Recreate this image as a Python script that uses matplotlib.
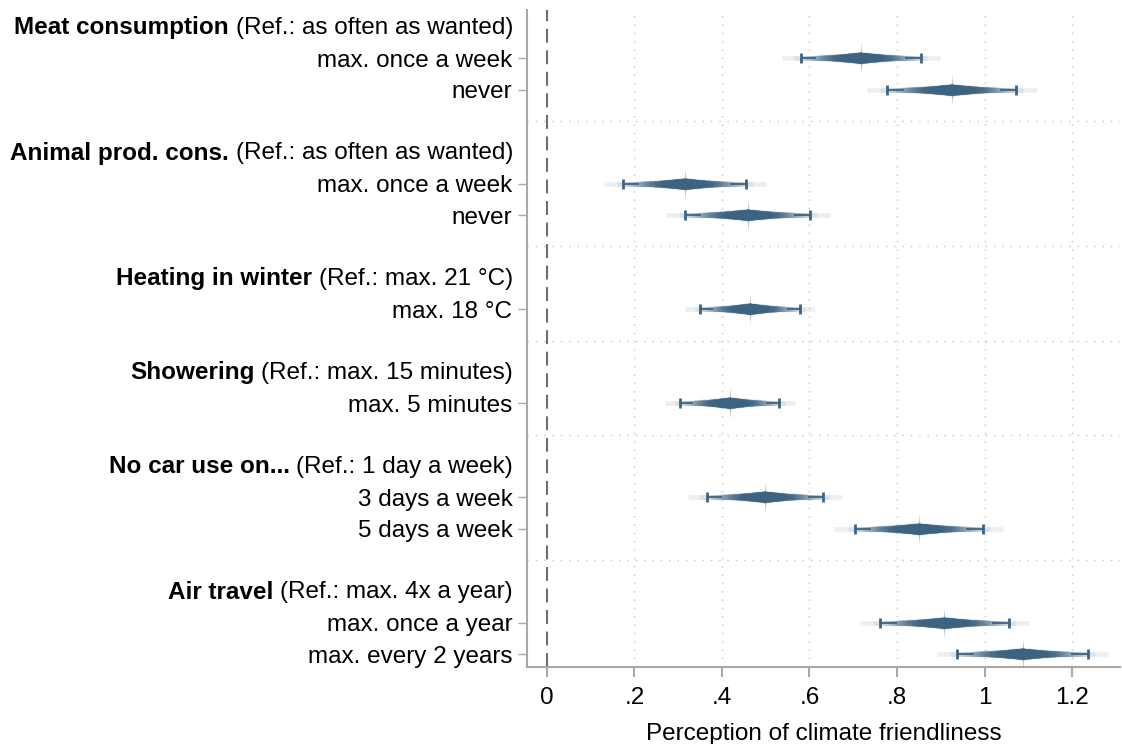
import matplotlib
matplotlib.use('Agg')
import matplotlib.pyplot as plt
import numpy as np
from matplotlib.collections import LineCollection
from matplotlib.path import Path
from matplotlib.transforms import blended_transform_factory
from statistics import NormalDist

plt.rcParams['font.family'] = ['Liberation Sans', 'DejaVu Sans']
plt.rcParams['lines.scale_dashes'] = False

# Data
groups = ['Meat consumption', 'Animal prod. cons.', 'Heating in winter',
          'Showering', 'No car use on...', 'Air travel']
refs = ['(Ref.: as often as wanted)', '(Ref.: as often as wanted)',
        '(Ref.: max. 21 °C)', '(Ref.: max. 15 minutes)',
        '(Ref.: 1 day a week)', '(Ref.: max. 4x a year)']
items = [['max. once a week', 'never'],
         ['max. once a week', 'never'],
         ['max. 18 °C'],
         ['max. 5 minutes'],
         ['3 days a week', '5 days a week'],
         ['max. once a year', 'max. every 2 years']]
coefs = [[0.717, 0.925], [0.315, 0.459], [0.464], [0.418],
         [0.498, 0.850], [0.908, 1.087]]
ses = [[0.070, 0.0755], [0.0717, 0.073], [0.058], [0.0577],
       [0.068, 0.075], [0.075, 0.076]]

xticks = [0, .2, .4, .6, .8, 1, 1.2]
xticklabels = ['0', '.2', '.4', '.6', '.8', '1', '1.2']

base = '#3d6382'
PT = 0.72      # points per pixel at dpi 100
FS = 17.5

fig = plt.figure(figsize=(11.22, 7.44), dpi=100)
ax = fig.add_axes([527/1122, 1-667/744, (1120-527)/1122, (667-10)/744])

# Row layout: header, items, separator between groups
rows_hdr, rows_item, rows_sep = [], [], []
r = 0
for g, its in enumerate(items):
    rows_hdr.append(r); r += 1
    for it in its:
        rows_item.append(r); r += 1
    if g < len(items) - 1:
        rows_sep.append(r); r += 1

flat_items = [it for its in items for it in its]
flat_coefs = [c for cs in coefs for c in cs]
flat_ses = [s for ss in ses for s in ss]

ax.set_xlim(-0.0457, 1.3097)
ax.set_ylim(20.41, -0.54)

# grid and separators
grid_ls = (0, (1, 5))
ax.vlines(xticks[1:], 20.41, -0.54, colors='#c4c4c4', lw=1, linestyles=grid_ls, zorder=1)
for ys in rows_sep:
    ax.axhline(ys, color='#c4c4c4', lw=1, ls=grid_ls, zorder=1)
ax.axvline(0, color='#6e6e6e', lw=1.5, ls=(0, (10, 5.5)), zorder=2)

# smoothed confidence intervals
nd = NormalDist()
lev = np.linspace(1, 99, 50)
zs = np.array([nd.inv_cdf(0.5 + l / 200) for l in lev])
lws = np.linspace(12, 4.5, 50) * PT
alphas = np.linspace(0.26, 0.1, 50)
rgb = matplotlib.colors.to_rgb(base)
cols = [rgb + (a,) for a in alphas]

spike = Path([(0, 1), (0.08, 0), (0, -1), (-0.08, 0), (0, 1)],
             [Path.MOVETO, Path.LINETO, Path.LINETO, Path.LINETO, Path.CLOSEPOLY])

for c, s, y in zip(flat_coefs, flat_ses, rows_item):
    segs = [[(c - z * s, y), (c + z * s, y)] for z in zs]
    lc = LineCollection(segs, linewidths=lws, colors=cols,
                        capstyle='butt', zorder=3)
    ax.add_collection(lc)
    for hpx in np.linspace(34, 12, 7):
        ax.scatter([c], [y], s=(hpx * PT) ** 2, marker=spike, color=base,
                   alpha=0.11, lw=0, zorder=3)
    h = 1.96 * s
    ax.hlines([y, y], [c - h, c + 0.74 * h], [c - 0.74 * h, c + h],
              colors=base, lw=1.3, zorder=4)
    ax.vlines([c - h, c + h], y - 0.16, y + 0.16, colors=base, lw=2, zorder=4)

# axes styling
for sp in ['top', 'right']:
    ax.spines[sp].set_visible(False)
for sp in ['left', 'bottom']:
    ax.spines[sp].set_color('#a8a8a8')
    ax.spines[sp].set_linewidth(1.5)

ax.set_xticks(xticks)
ax.set_xticklabels(xticklabels, fontsize=FS)
ax.set_yticks(rows_item)
ax.set_yticklabels(flat_items, fontsize=FS)
ax.tick_params(axis='x', length=10 * PT, width=1.5, color='#a8a8a8', pad=7)
ax.tick_params(axis='y', length=9 * PT, width=1, color='#a8a8a8', pad=4)
ax.set_xlabel('Perception of climate friendliness', fontsize=FS, labelpad=10)

# group headers: bold name + plain reference
trans = blended_transform_factory(fig.transFigure, ax.transData)
xr = 513 / 1122
renderer = fig.canvas.get_renderer()
for g, ref, yh in zip(groups, refs, rows_hdr):
    t = ax.text(xr, yh + 0.03, ref, transform=trans, ha='right', va='center',
                fontsize=FS)
    bb = t.get_window_extent(renderer)
    xb = (bb.x0 - 6.5) / fig.bbox.width
    ax.text(xb, yh + 0.03, g, transform=trans, ha='right', va='center',
            fontsize=FS, fontweight='bold')

fig.savefig('out.png', dpi=100)
